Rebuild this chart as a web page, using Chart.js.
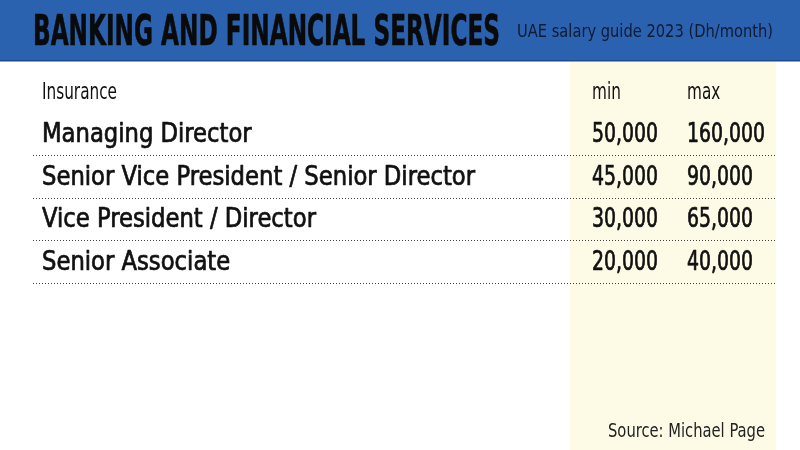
<!DOCTYPE html>
<html lang="en">

<head>
    <title>UAE salary guide 2023</title>
    <meta charset="utf-8">
    <script src="https://cdn.jsdelivr.net/npm/chart.js"></script>
    <style>
        html, body { margin: 0; padding: 0; background: #fff; }
        #wrap { width: 800px; height: 450px; }
    </style>
</head>

<body>
    <div id="wrap">
        <canvas id="salaryChart" width="800" height="450"></canvas>
    </div>

    <script>
        // data
        const titleText = 'BANKING AND FINANCIAL SERVICES';
        const subtitleText = 'UAE salary guide 2023 (Dh/month)';
        const sourceText = 'Source: Michael Page';
        const columnHeads = ['Insurance', 'min', 'max'];
        const roles = ['Managing Director', 'Senior Vice President / Senior Director', 'Vice President / Director', 'Senior Associate'];
        const minSalary = [50000, 45000, 30000, 20000];
        const maxSalary = [160000, 90000, 65000, 40000];

        const FAMILY = '"Liberation Sans Narrow", "DejaVu Sans Condensed", "Roboto", sans-serif';
        const BLUE = '#2b62b0';
        const CREAM = '#fdfbe6';
        const INK = '#111111';

        // column anchors on the x scale (0..800)
        const colX = { label: 42, min: 592, max: 687 };

        const fmt = (v) => v.toLocaleString('en-US');

        // squeeze/stretch a font so a reference string hits a target width
        const fitScale = (ctx, font, ref, target) => {
            ctx.save();
            ctx.font = font;
            const w = ctx.measureText(ref).width;
            ctx.restore();
            return w ? target / w : 1;
        };

        const drawText = (ctx, text, x, y, font, sx, color, align, weight) => {
            ctx.save();
            ctx.font = font;
            ctx.fillStyle = color;
            ctx.textBaseline = 'alphabetic';
            ctx.textAlign = 'left';
            const w = ctx.measureText(text).width * sx;
            const left = align === 'right' ? x - w : x;
            ctx.translate(left, y);
            ctx.scale(sx, 1);
            ctx.fillText(text, 0, 0);
            if (weight) {
                // fake a medium weight
                ctx.strokeStyle = color;
                ctx.lineWidth = weight;
                ctx.lineJoin = 'round';
                ctx.strokeText(text, 0, 0);
            }
            ctx.restore();
        };

        const tablePlugin = {
            id: 'salaryTable',
            beforeDraw(chart) {
                const ctx = chart.ctx;
                const xs = chart.scales.x;
                const ys = chart.scales.y;
                const W = chart.width, H = chart.height;

                ctx.save();
                ctx.fillStyle = '#ffffff';
                ctx.fillRect(0, 0, W, H);

                // cream band behind the figures
                ctx.fillStyle = CREAM;
                ctx.fillRect(xs.getPixelForValue(570), 61, xs.getPixelForValue(776) - xs.getPixelForValue(570), H - 61);

                // header band
                ctx.fillStyle = BLUE;
                ctx.fillRect(0, 0, W, 60);
                ctx.fillStyle = '#1d4a8e';
                ctx.fillRect(0, 60, W, 1.5);
                ctx.restore();

                const titleFont = 'bold 42px ' + FAMILY;
                drawText(ctx, titleText, 33, 45, titleFont, fitScale(ctx, titleFont, titleText, 467), '#0a0a0a', 'left', 0.6);

                const subFont = '17px ' + FAMILY;
                drawText(ctx, subtitleText, 517, 37, subFont, fitScale(ctx, subFont, subtitleText, 256), '#0f1a33');

                // header row
                const headFont = '23px ' + FAMILY;
                const headSx = fitScale(ctx, headFont, columnHeads[0], 75);
                const headY = ys.getPixelForValue(0) + 23 * 0.72 / 2;
                drawText(ctx, columnHeads[0], xs.getPixelForValue(colX.label), headY, headFont, headSx, INK);
                drawText(ctx, columnHeads[1], xs.getPixelForValue(colX.min), headY, headFont, headSx, INK);
                drawText(ctx, columnHeads[2], xs.getPixelForValue(colX.max), headY, headFont, headSx, INK);

                // body rows
                const rowFont = '26px ' + FAMILY;
                const rowSx = fitScale(ctx, rowFont, roles[1], 433);
                const numSx = fitScale(ctx, rowFont, fmt(minSalary[0]), 66);
                const step = ys.getPixelForValue(2) - ys.getPixelForValue(1);

                roles.forEach((role, i) => {
                    const cy = ys.getPixelForValue(i + 1);
                    const base = cy + 26 * 0.72 / 2;
                    drawText(ctx, role, xs.getPixelForValue(colX.label), base, rowFont, rowSx, INK, 'left', 0.7);
                    drawText(ctx, fmt(minSalary[i]), xs.getPixelForValue(colX.min), base, rowFont, numSx, INK, 'left', 0.7);
                    drawText(ctx, fmt(maxSalary[i]), xs.getPixelForValue(colX.max), base, rowFont, numSx, INK, 'left', 0.7);

                    // dotted rule under the row
                    const ly = Math.round(cy + step * 0.52) + 0.5;
                    ctx.save();
                    ctx.strokeStyle = '#444444';
                    ctx.lineWidth = 1;
                    ctx.setLineDash([1, 2]);
                    ctx.beginPath();
                    ctx.moveTo(xs.getPixelForValue(33), ly);
                    ctx.lineTo(xs.getPixelForValue(776), ly);
                    ctx.stroke();
                    ctx.restore();
                });

                const srcFont = '19px ' + FAMILY;
                drawText(ctx, sourceText, 765, 437, srcFont, fitScale(ctx, srcFont, sourceText, 157), '#222222', 'right');
            }
        };

        const salaryChart = new Chart(document.getElementById('salaryChart'), {
            type: 'scatter',
            data: {
                datasets: []
            },
            options: {
                responsive: false,
                animation: false,
                events: [],
                layout: {
                    padding: { top: 90.5, bottom: 189.5, left: 0, right: 0 }
                },
                scales: {
                    x: { type: 'linear', min: 0, max: 800, display: false },
                    y: {
                        type: 'category',
                        labels: [columnHeads[0], ...roles],
                        offset: false,
                        display: false
                    }
                },
                plugins: {
                    legend: { display: false },
                    tooltip: { enabled: false }
                }
            },
            plugins: [tablePlugin]
        });
    </script>
</body>

</html>
